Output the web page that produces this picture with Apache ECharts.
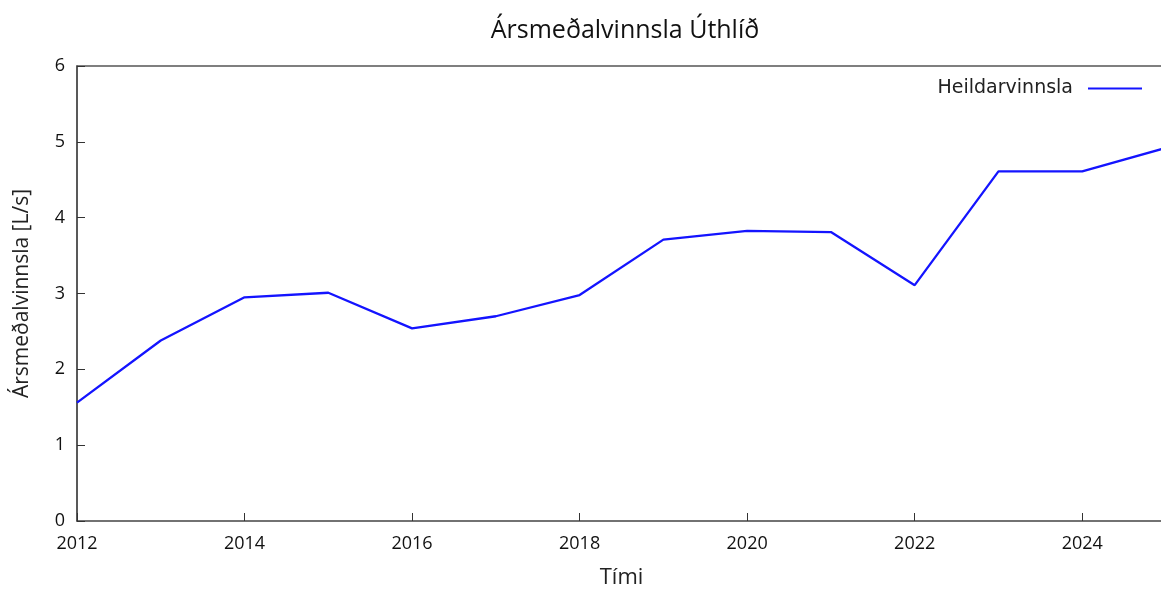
<!DOCTYPE html>
<html>
<head>
<meta charset="utf-8">
<script src="https://cdn.jsdelivr.net/npm/echarts@6/dist/echarts.min.js"></script>
<style>
  html, body { margin: 0; padding: 0; background: #fff; }
  #chart { width: 1161px; height: 590px; }
</style>
</head>
<body>
<div id="chart"></div>
<script>
const years = [2012, 2013, 2014, 2015, 2016, 2017, 2018, 2019, 2020, 2021, 2022, 2023, 2024, 2025]
const values = [1.56, 2.38, 2.95, 3.01, 2.54, 2.70, 2.98, 3.71, 3.825, 3.81, 3.11, 4.61, 4.61, 4.92]

const seriesName = 'Heildarvinnsla'
const titleText = 'Ársmeðalvinnsla Úthlíð'
const xName = 'Tími'
const yName = 'Ársmeðalvinnsla [L/s]'

const chart = echarts.init(document.getElementById('chart'), null, { renderer: 'canvas' })

const axisFont = '"Open Sans", "Noto Sans", sans-serif'

const option = {
  animation: false,
  backgroundColor: '#fff',
  title: {
    text: titleText,
    left: 620,
    textAlign: 'center',
    top: 13,
    textStyle: {
      fontFamily: axisFont,
      fontSize: 25,
      fontWeight: 'normal',
      color: '#111'
    }
  },
  legend: {
    data: [seriesName],
    right: 14,
    top: 74,
    align: 'right',
    icon: 'rect',
    itemWidth: 54,
    itemHeight: 2,
    itemGap: 14,
    textStyle: {
      fontFamily: '"DejaVu Sans", sans-serif',
      fontSize: 19,
      color: '#222',
      padding: [0, 10, 0, 0]
    }
  },
  grid: {
    left: 77,
    top: 66,
    width: 1089,
    height: 455,
    outerBoundsMode: 'none'
  },
  xAxis: [{
    type: 'value',
    min: 2012,
    max: 2025,
    interval: 2,
    name: xName,
    nameLocation: 'middle',
    nameGap: 46,
    nameTextStyle: { fontFamily: axisFont, fontSize: 22, color: '#222' },
    axisLine: { lineStyle: { color: '#444', width: 1.5 } },
    axisTick: { show: true, inside: true, length: 8, lineStyle: { color: '#333' } },
    axisLabel: {
      color: '#111',
      fontFamily: axisFont,
      fontSize: 18,
      margin: 14,
      showMaxLabel: false,
      formatter: v => String(v)
    },
    splitLine: { show: false }
  }, {
    type: 'value',
    position: 'top',
    min: 2012,
    max: 2025,
    axisLine: { show: true, onZero: false, lineStyle: { color: '#555', width: 1.5 } },
    axisTick: { show: false },
    axisLabel: { show: false },
    splitLine: { show: false }
  }],
  yAxis: {
    type: 'value',
    min: 0,
    max: 6,
    interval: 1,
    name: yName,
    nameLocation: 'middle',
    nameGap: 44,
    nameTextStyle: { fontFamily: axisFont, fontSize: 21, color: '#222' },
    axisLine: { show: true, lineStyle: { color: '#222', width: 1.5 } },
    axisTick: { show: true, inside: true, length: 8, lineStyle: { color: '#333' } },
    axisLabel: {
      color: '#111',
      fontFamily: axisFont,
      fontSize: 18,
      margin: 12
    },
    splitLine: { show: false }
  },
  series: [{
    name: seriesName,
    type: 'line',
    data: years.map((y, i) => [y, values[i]]),
    symbol: 'none',
    lineStyle: { color: '#1414ff', width: 2.3 },
    itemStyle: { color: '#1414ff' }
  }]
}

chart.setOption(option)
</script>
</body>
</html>
